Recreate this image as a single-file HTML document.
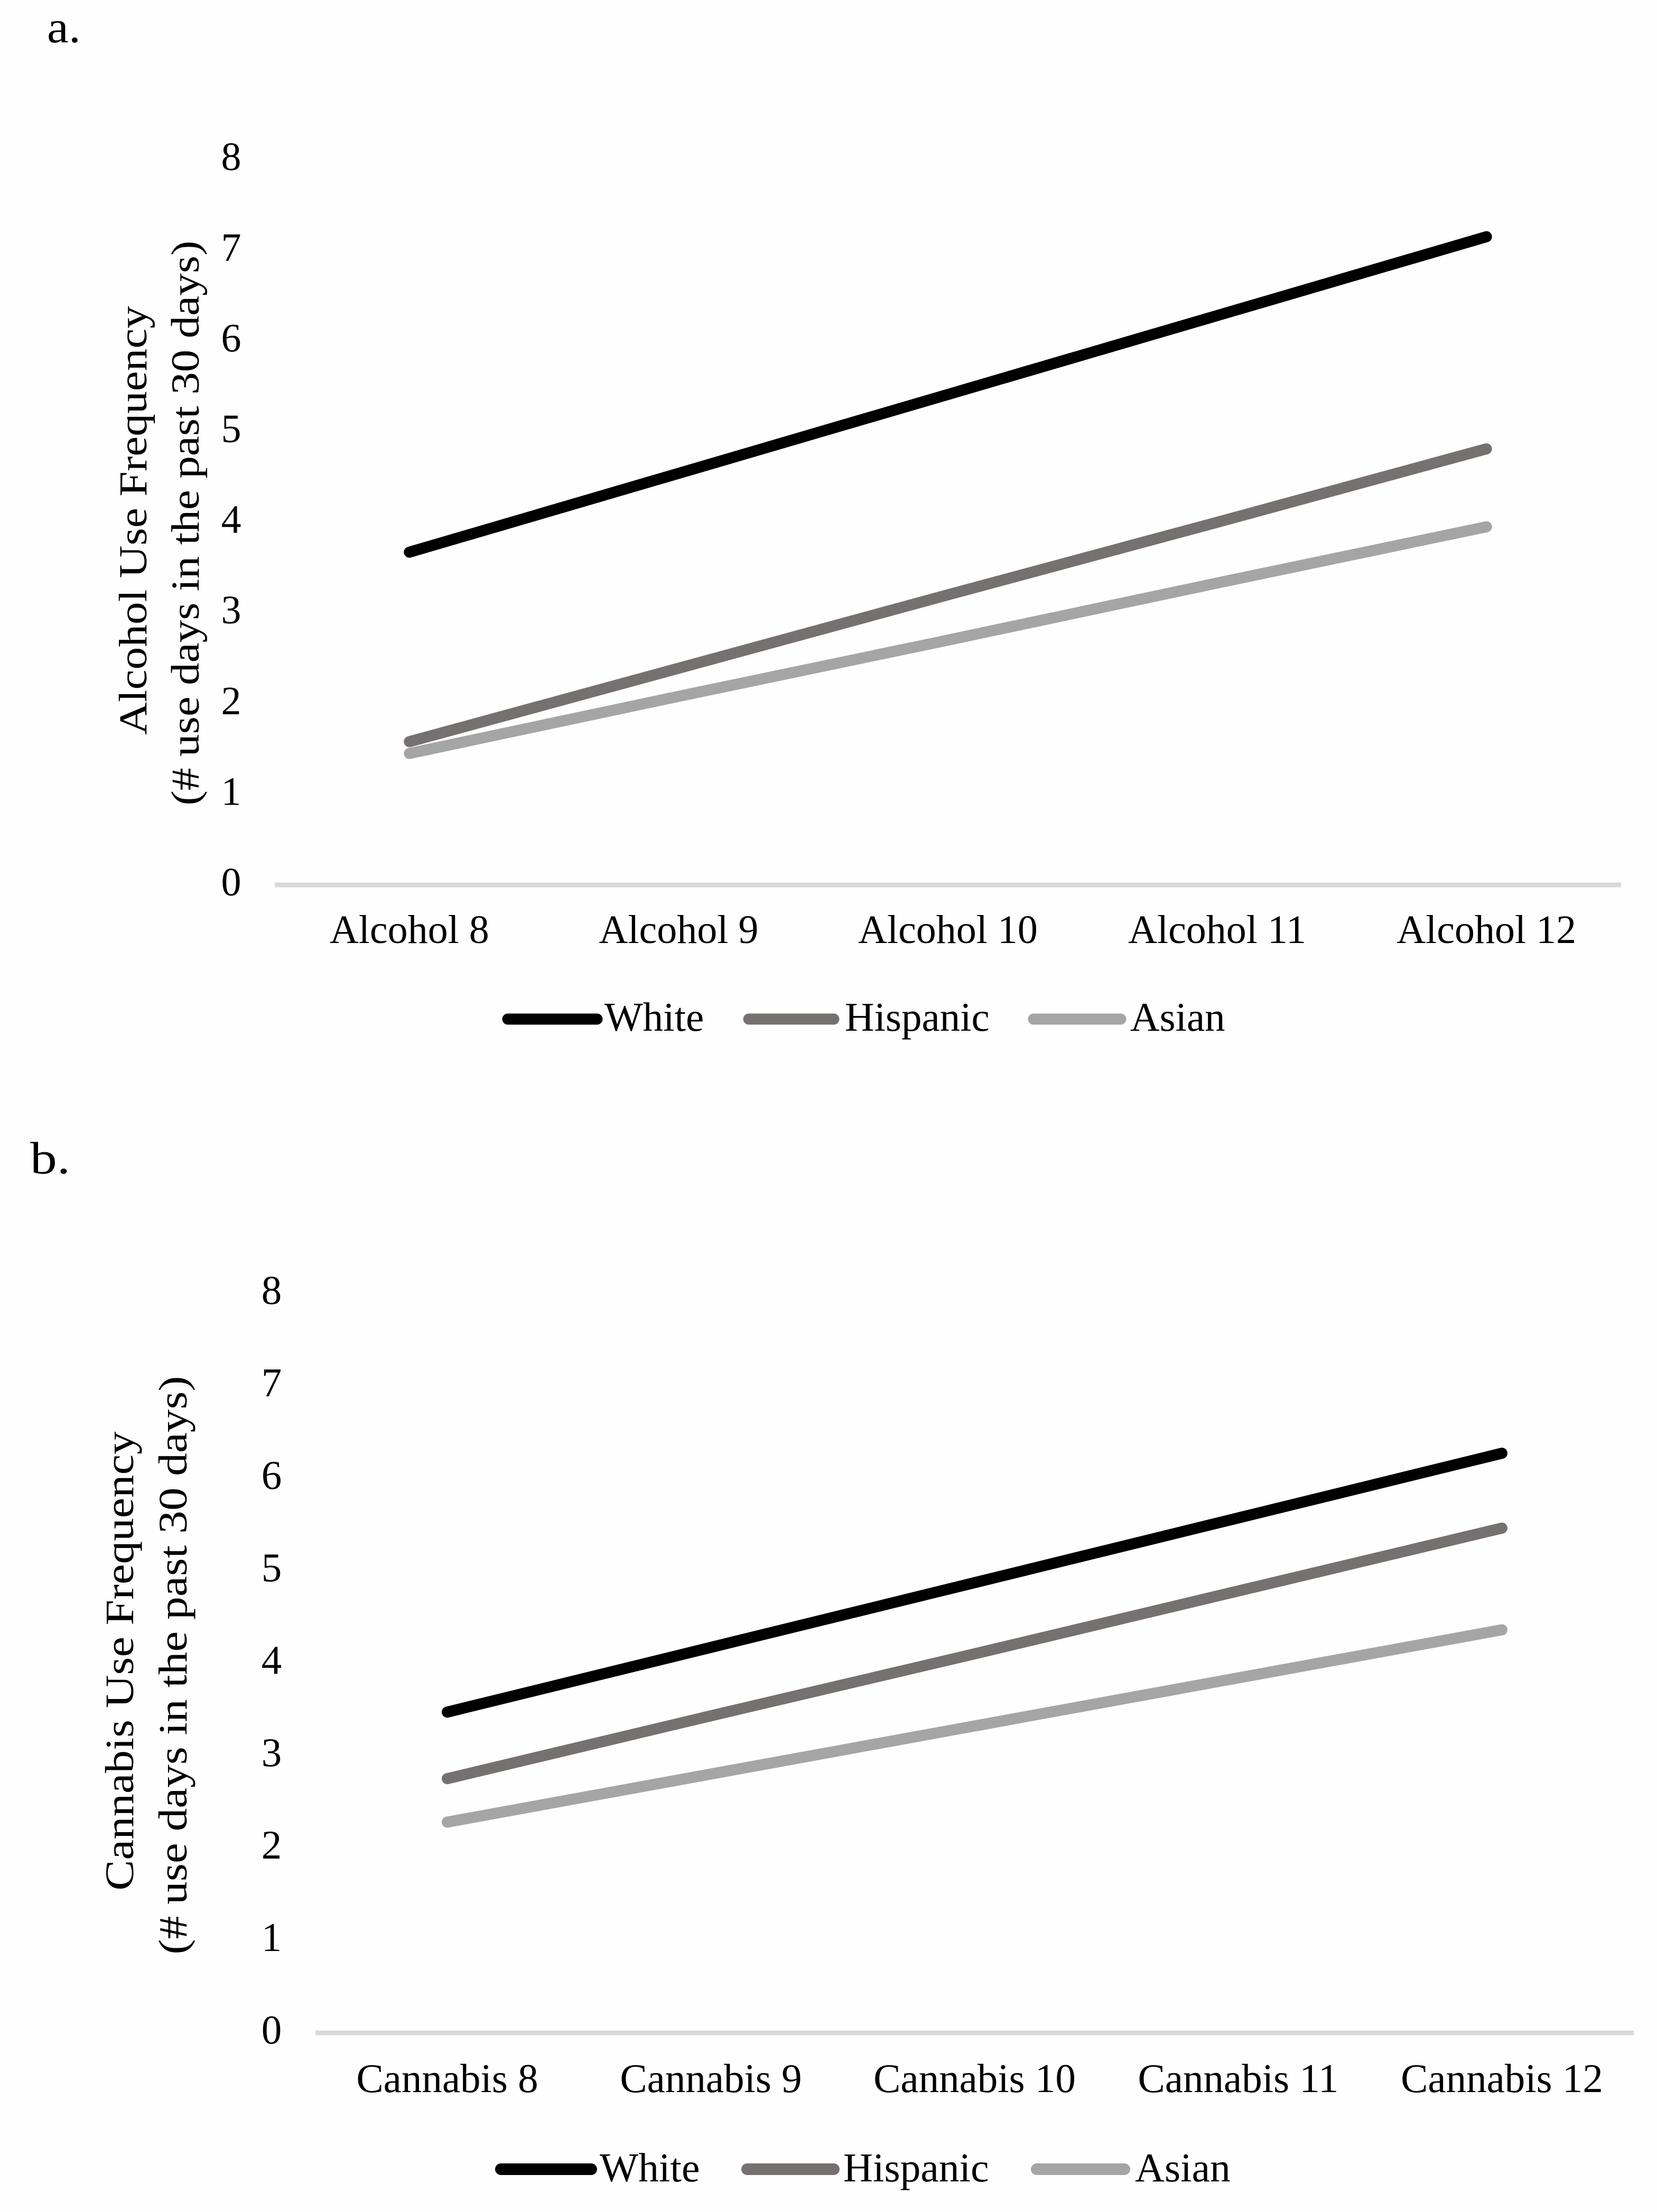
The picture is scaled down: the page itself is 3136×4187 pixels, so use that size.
<!DOCTYPE html>
<html lang="en">
<head>
<meta charset="utf-8">
<title>Alcohol and Cannabis Use Frequency</title>
<style>
  html, body { margin: 0; padding: 0; background: #fefefe; }
  svg { display: block; }
  text { font-family: "Liberation Serif", serif; fill: #000; }
</style>
</head>
<body>
<svg id="figure" xmlns="http://www.w3.org/2000/svg" width="3136" height="4187" viewBox="0 0 3136 4187">
  <rect x="0" y="0" width="3136" height="4187" fill="#fefefe"/>

  <text transform="translate(89 80) scale(1.07 1)" font-size="86">a.</text>
  <g id="chart-a">
    <text transform="translate(277 985) rotate(-90)" text-anchor="middle" font-size="75.5" textLength="812" lengthAdjust="spacingAndGlyphs">Alcohol Use Frequency</text>
    <text transform="translate(376 990) rotate(-90)" text-anchor="middle" font-size="75.5" textLength="1069" lengthAdjust="spacingAndGlyphs">(# use days in the past 30 days)</text>
    <g>
      <g>
        <line x1="961" y1="1929" x2="1130" y2="1929" stroke="#000000" stroke-width="21" stroke-linecap="round"/>
        <text x="1144" y="1951" font-size="77">White</text>
      </g>
      <g>
        <line x1="1417" y1="1929" x2="1578" y2="1929" stroke="#767171" stroke-width="21" stroke-linecap="round"/>
        <text x="1599" y="1951" font-size="77">Hispanic</text>
      </g>
      <g>
        <line x1="1956" y1="1929" x2="2121" y2="1929" stroke="#A5A5A5" stroke-width="21" stroke-linecap="round"/>
        <text x="2139" y="1951" font-size="77">Asian</text>
      </g>
    </g>
  </g>

  <text transform="translate(57 2221) scale(1.18 1)" font-size="86">b.</text>
  <g id="chart-b">
    <text transform="translate(252 3144) rotate(-90)" text-anchor="middle" font-size="76.5" textLength="869" lengthAdjust="spacingAndGlyphs">Cannabis Use Frequency</text>
    <text transform="translate(353 3152) rotate(-90)" text-anchor="middle" font-size="76.5" textLength="1095" lengthAdjust="spacingAndGlyphs">(# use days in the past 30 days)</text>
    <g>
      <g>
        <line x1="948" y1="4106" x2="1119" y2="4106" stroke="#000000" stroke-width="22" stroke-linecap="round"/>
        <text x="1135" y="4129" font-size="77.5">White</text>
      </g>
      <g>
        <line x1="1414" y1="4106" x2="1578" y2="4106" stroke="#767171" stroke-width="22" stroke-linecap="round"/>
        <text x="1596" y="4129" font-size="77.5">Hispanic</text>
      </g>
      <g>
        <line x1="1962" y1="4106" x2="2128" y2="4106" stroke="#A5A5A5" stroke-width="22" stroke-linecap="round"/>
        <text x="2148" y="4129" font-size="77.5">Asian</text>
      </g>
    </g>
  </g>
</svg>
<script>
const yTickLabels = [0, 1, 2, 3, 4, 5, 6, 7, 8];

const alcoholCategories = ["Alcohol 8", "Alcohol 9", "Alcohol 10", "Alcohol 11", "Alcohol 12"];
const alcoholWhite = [3.67, 4.54, 5.41, 6.28, 7.15];
const alcoholHispanic = [1.58, 2.39, 3.20, 4.00, 4.81];
const alcoholAsian = [1.45, 2.08, 2.70, 3.33, 3.95];

const cannabisCategories = ["Cannabis 8", "Cannabis 9", "Cannabis 10", "Cannabis 11", "Cannabis 12"];
const cannabisWhite = [3.47, 4.17, 4.87, 5.57, 6.27];
const cannabisHispanic = [2.75, 3.43, 4.10, 4.78, 5.46];
const cannabisAsian = [2.28, 2.80, 3.32, 3.84, 4.36];

const SVG_NS = "http://www.w3.org/2000/svg";

function makeSvg(tag, parent) {
  const el = document.createElementNS(SVG_NS, tag);
  parent.appendChild(el);
  return el;
}

function xScale(layout, count, index) {
  return layout.left + (layout.right - layout.left) * (index + 0.5) / count;
}

function yScale(layout, value) {
  return layout.zero - value * layout.unit;
}

function drawChart(groupId, layout, categories, seriesList) {
  const group = document.getElementById(groupId);

  const axis = makeSvg("line", group);
  
  
  axis.setAttribute("x1", layout.left);
  axis.setAttribute("x2", layout.right);
  axis.setAttribute("y1", layout.zero);
  axis.setAttribute("y2", layout.zero);
  axis.setAttribute("stroke", "#D9D9D9");
  axis.setAttribute("stroke-width", 9);

  yTickLabels.forEach(function (tick) {
    const label = makeSvg("text", group);
    
    
    label.setAttribute("x", layout.tickX);
    label.setAttribute("y", yScale(layout, tick) + layout.tickDy);
    label.setAttribute("text-anchor", "middle");
    label.setAttribute("font-size", layout.fontSize);
    label.textContent = tick;
  });

  categories.forEach(function (name, i) {
    const label = makeSvg("text", group);
    
    
    label.setAttribute("x", xScale(layout, categories.length, i));
    label.setAttribute("y", layout.categoryBaseline);
    label.setAttribute("text-anchor", "middle");
    label.setAttribute("font-size", layout.fontSize);
    label.textContent = name;
  });

  seriesList.forEach(function (series) {
    const points = series.values.map(function (v, i) {
      return xScale(layout, series.values.length, i) + "," + yScale(layout, v);
    }).join(" ");
    const line = makeSvg("polyline", group);
    
    
    line.setAttribute("data-series", series.name);
    line.setAttribute("points", points);
    line.setAttribute("fill", "none");
    line.setAttribute("stroke", series.color);
    line.setAttribute("stroke-width", 21);
    line.setAttribute("stroke-linecap", "round");
    line.setAttribute("stroke-linejoin", "round");
  });
}

drawChart("chart-a",
  { left: 520, right: 3068, zero: 1675, unit: 171.6, tickX: 437.5, tickDy: 20, categoryBaseline: 1785, fontSize: 76 },
  alcoholCategories,
  [
    { name: "White", color: "#000000", values: alcoholWhite },
    { name: "Hispanic", color: "#767171", values: alcoholHispanic },
    { name: "Asian", color: "#A5A5A5", values: alcoholAsian }
  ]);

drawChart("chart-b",
  { left: 597, right: 3092, zero: 3848, unit: 175, tickX: 514, tickDy: 20, categoryBaseline: 3960, fontSize: 77 },
  cannabisCategories,
  [
    { name: "White", color: "#000000", values: cannabisWhite },
    { name: "Hispanic", color: "#767171", values: cannabisHispanic },
    { name: "Asian", color: "#A5A5A5", values: cannabisAsian }
  ]);
</script>
</body>
</html>
